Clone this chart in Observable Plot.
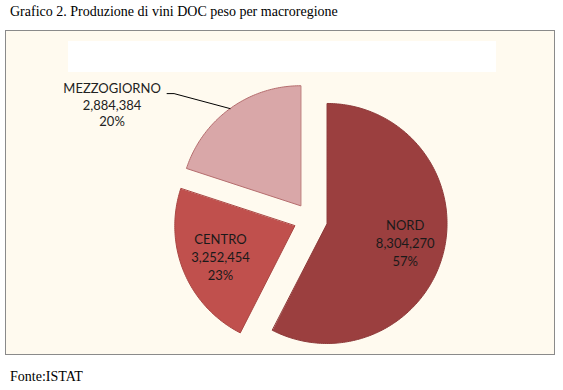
<!DOCTYPE html>
<html><head><meta charset="utf-8">
<script src="https://cdn.jsdelivr.net/npm/d3@7"></script>
<script src="https://cdn.jsdelivr.net/npm/@observablehq/plot@0.6"></script>
<style>
body{margin:0;background:#fff;width:563px;height:390px;position:relative;overflow:hidden}
#title{position:absolute;left:10px;top:4px;font-family:"Liberation Serif","Times New Roman",serif;font-size:14px;color:#000;white-space:nowrap}
#frame{position:absolute;left:5px;top:30px;width:548px;height:323px;border:1px solid #8a8a8a;background:#fffaef}
#legendbox{position:absolute;left:62px;top:10px;width:428px;height:31px;background:#fff}
#chart{position:absolute;left:0;top:0}
#caption{position:absolute;left:10px;top:369px;font-family:"Liberation Serif","Times New Roman",serif;font-size:14px;color:#000}
</style></head>
<body>
<div id="title">Grafico 2. Produzione di vini DOC peso per macroregione</div>
<div id="frame"><div id="legendbox"></div><div id="chart"></div></div>
<div id="caption">Fonte:ISTAT</div>
<script>
const names = ["NORD", "CENTRO", "MEZZOGIORNO"];
const values = [8304270, 3252454, 2884384];
const valueLabels = ["8,304,270", "3,252,454", "2,884,384"];
const percents = ["57%", "23%", "20%"];
const fills = ["#9b3f3f", "#c0504d", "#d9a7a8"];
const strokes = ["#8e3a3a", "#a94643", "#b56d6e"];

const W = 548, H = 323;
const cx = 304, cy = 188, R = 120, explode = 17;

const arcs = d3.pie().sort(null)(values);
const slices = arcs.map((a, i) => {
  const mid = (a.startAngle + a.endAngle) / 2;
  const ax = cx + explode * Math.sin(mid), ay = cy - explode * Math.cos(mid);
  const pts = [{x: ax, y: ay}];
  const n = Math.max(8, Math.ceil((a.endAngle - a.startAngle) / (Math.PI / 180)));
  for (let k = 0; k <= n; k++) {
    const t = a.startAngle + (a.endAngle - a.startAngle) * k / n;
    pts.push({x: ax + R * Math.sin(t), y: ay - R * Math.cos(t)});
  }
  return {i, mid, ax, ay, pts};
});

const labelFont = "Lato, 'Open Sans', sans-serif";
const inside = slices.filter(s => s.i < 2).map(s => ({
  x: s.ax + 0.67 * R * Math.sin(s.mid),
  y: s.ay - 0.67 * R * Math.cos(s.mid),
  text: names[s.i] + "\n" + valueLabels[s.i] + "\n" + percents[s.i]
}));
const m = slices[2];
const px = m.ax + R * Math.sin(m.mid), py = m.ay - R * Math.cos(m.mid);
const leader = [{x: px, y: py}, {x: px - 56, y: py - 15}, {x: px - 63, y: py - 15}];
const outside = [{x: px - 118, y: py - 4, text: names[2] + "\n" + valueLabels[2] + "\n" + percents[2]}];

const marks = slices.map(s => Plot.line(s.pts, {x: "x", y: "y", curve: "linear-closed", fill: fills[s.i], stroke: strokes[s.i], strokeWidth: 1}));
marks.push(Plot.line(leader, {x: "x", y: "y", stroke: "#000", strokeWidth: 1}));
marks.push(Plot.text(inside, {x: "x", y: "y", text: "text", fontSize: 13, lineHeight: 1.38, fill: "#1a1a1a", fontFamily: labelFont}));
marks.push(Plot.text(outside, {x: "x", y: "y", text: "text", fontSize: 13, lineHeight: 1.27, fill: "#222", fontFamily: labelFont}));

const chart = Plot.plot({
  width: W, height: H, margin: 0,
  x: {domain: [0, W], range: [0, W], axis: null},
  y: {domain: [0, H], range: [0, H], axis: null},
  style: {background: "transparent", overflow: "visible"},
  marks
});
document.getElementById("chart").appendChild(chart);
</script>
</body></html>
